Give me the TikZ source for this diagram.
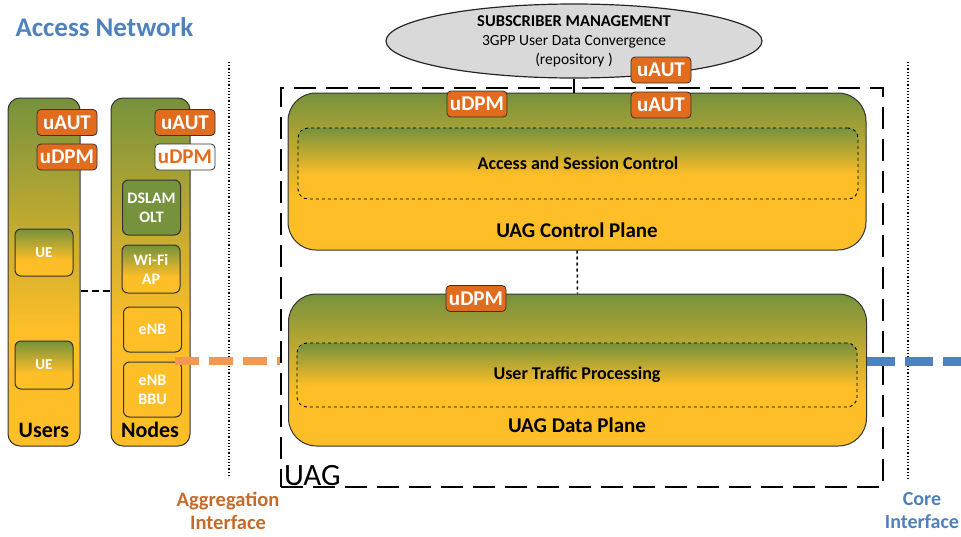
\documentclass[tikz,border=0pt]{standalone}
\usepackage{fontspec}
\setmainfont{Carlito}
\usetikzlibrary{shapes.geometric}

\definecolor{ugreen}{RGB}{118,146,60}
\definecolor{uyellow}{RGB}{253,190,40}
\definecolor{tagorange}{RGB}{226,108,30}
\definecolor{aggorange}{RGB}{244,151,83}
\definecolor{aggtext}{RGB}{196,107,43}
\definecolor{coreblue}{RGB}{79,129,189}
\definecolor{smgray}{RGB}{217,217,217}
\pgfdeclareverticalshading{greenfade}{100bp}{color(0bp)=(uyellow); color(25bp)=(uyellow); color(42bp)=(uyellow); color(75bp)=(ugreen); color(100bp)=(ugreen)}

\newcommand{\fs}[1]{\fontsize{#1}{#1}\selectfont}

\tikzset{
    column/.style={draw=black!80, line width=1pt, rounded corners=12pt, shading=greenfade, inner sep=0pt},
    box/.style={draw=black!80, line width=1pt, rounded corners=6pt, text=white, font=\bfseries\fs{16}, align=center, inner sep=0pt, minimum width=58},
    tag/.style={draw=black!80, line width=0.8pt, fill=tagorange, rounded corners=4pt, text=white, font=\bfseries\fs{21}, minimum width=60, minimum height=26, inner sep=0pt},
    plane/.style={draw=black!80, line width=1pt, rounded corners=28pt, shading=greenfade, inner sep=0pt, minimum width=578},
    func/.style={draw=black, dashed, line width=0.9pt, rounded corners=10pt, shading=greenfade, inner sep=0pt, minimum width=560, font=\bfseries\fs{18}},
    iface/.style={black, dotted, line width=1.2pt},
    label/.style={font=\bfseries\fs{21}, align=center}
}

\begin{document}
\begin{tikzpicture}[x=1pt, y=-1pt]
    \useasboundingbox (0,0) rectangle (961,536);

    % Access network
    \node[anchor=west, text=coreblue, font=\bfseries\fs{27}] (title) at (12,27) {Access Network};
    \node[column, minimum width=72, minimum height=348] (users) at (44,272) {};
    \node[column, minimum width=79, minimum height=348] (nodes) at (150.5,272) {};
    \node[tag] (uaut1) at (67,122.5) {uAUT};
    \node[tag] (udpm1) at (67,157) {uDPM};
    \node[tag] (uaut2) at (185,122.5) {uAUT};
    \node[tag, fill=white, text=tagorange] (udpm2) at (185,157) {uDPM};
    \node[box, shading=greenfade, minimum height=47, font=\bfseries\fs{15}] (ue1) at (44,252.5) {UE};
    \node[box, shading=greenfade, minimum height=48, font=\bfseries\fs{15}] (ue2) at (44,365) {UE};
    \node[box, fill=ugreen, minimum height=55] (dslam) at (151.5,207.5) {DSLAM\\[3pt]OLT};
    \node[box, shading=greenfade, minimum height=48] (wifi) at (151,269) {Wi-Fi\\[3pt]AP};
    \node[box, fill=uyellow, minimum height=45] (enb) at (152.5,329.5) {eNB};
    \node[box, fill=uyellow, minimum height=55] (bbu) at (152.5,389.5) {eNB\\[3pt]BBU};
    \node[label, font=\bfseries\fs{22}] (userslbl) at (44,430) {Users};
    \node[label, font=\bfseries\fs{22}] (nodeslbl) at (150,430) {Nodes};
    \coordinate (link) at (0,291);
    \draw[black, dashed, line width=2.5pt, dash pattern=on 7pt off 4pt] (users.east |- link) -- (nodes.west |- link);

    % Interfaces
    \coordinate (aggtop) at (229,62);
    \coordinate (aggbot) at (229,478);
    \coordinate (coretop) at (908,62);
    \coordinate (corebot) at (908,480);
    \draw[iface] (aggtop) -- (aggbot);
    \draw[iface] (coretop) -- (corebot);
    \node[label, text=aggtext, font=\bfseries\fs{20.5}] (agglbl) at (228,511) {Aggregation\\[3pt]Interface};
    \node[label, text=coreblue, font=\bfseries\fs{20}] (corelbl) at (922,511) {Core\\[3pt]Interface};

    % UAG
    \node[draw, dashed, line width=2.5pt, dash pattern=on 22pt off 10pt, minimum width=602, minimum height=399, inner sep=0pt] (uag) at (582,287.5) {};
    \node[anchor=south west, font=\fs{31}, inner sep=0pt] (uaglbl) at (284,486) {UAG};
    \coordinate (agg) at (175,361);
    \coordinate (coreend) at (961,361);
    \draw[aggorange, line width=8pt, dash pattern=on 24pt off 10pt] (agg) -- (agg -| uag.west);
    \node[plane, minimum height=157] (cp) at (577,171.5) {};
    \node[func, minimum height=71] (acs) at (578,163.5) {Access and Session Control};
    \node[label] (cplbl) at (577,230) {UAG Control Plane};
    \node[plane, minimum height=152] (dp) at (577.5,370) {};
    \node[func, minimum height=64] (utp) at (577,375) {User Traffic Processing};
    \node[label] (dplbl) at (577,425) {UAG Data Plane};
    \draw[coreblue, line width=9pt, dash pattern=on 28pt off 10pt] (dp.east |- coreend) -- (coreend);
    \draw[black, dashed, line width=1.5pt] (cp.south) -- (dp.north);

    % Subscriber management
    \node[ellipse, draw=black!85, line width=1.2pt, fill=smgray, minimum width=376, minimum height=74, align=center, inner sep=0pt] (sm) at (574,41) {{\bfseries\fs{16.5}SUBSCRIBER MANAGEMENT}\\[7pt]{\fs{15.5}3GPP User Data Convergence}\\[4pt]{\fs{15.5}(repository )}};
    \draw[black, line width=1.2pt] (sm.south) -- (sm.south |- cp.north);
    \node[tag] (uaut3) at (661,70) {uAUT};
    \node[tag] (uaut4) at (661,105) {uAUT};
    \node[tag] (udpm3) at (477,104) {uDPM};
    \node[tag] (udpm4) at (476,298.5) {uDPM};
\end{tikzpicture}
\end{document}
